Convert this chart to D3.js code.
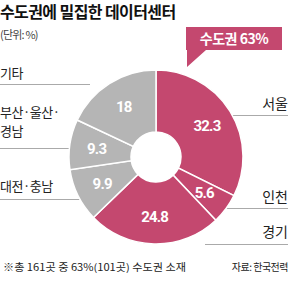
<!DOCTYPE html>
<html>
<head>
<meta charset="utf-8">
<script src="https://cdn.jsdelivr.net/npm/d3@7"></script>
<style>
  body { margin: 0; background: #fff; }
  svg { display: block; font-family: "Noto Sans CJK KR", "Noto Sans", sans-serif; }
</style>
</head>
<body>
<svg id="chart" width="300" height="289"></svg>
<script>
// regions clockwise from 12 o'clock
var regions = ["서울", "인천", "경기", "대전·충남", "부산·울산·경남", "기타"];
var shares = [32.3, 5.6, 24.8, 9.9, 9.3, 18];
var metro = [true, true, true, false, false, false];

var width = 300, height = 289;
var cx = 156, cy = 157;
var outerR = 87, innerR = 25;

var svg = d3.select("#chart");
var pink = "#c4486f", gray = "#b5b5b5";

// title
svg.append("text")
    .attr("x", 0).attr("y", 18)
    .attr("font-size", 16).attr("font-weight", "bold")
    .attr("letter-spacing", -0.6)
    .attr("fill", "#111")
    .text("수도권에 밀집한 데이터센터");

svg.append("text")
    .attr("x", 0).attr("y", 39)
    .attr("font-size", 11).attr("letter-spacing", -0.8)
    .attr("fill", "#444")
    .text("(단위: %)");

// leader lines go under the donut
var lines = [
    {x1: 0, x2: 90, y: 84},
    {x1: 0, x2: 75, y: 148},
    {x1: 0, x2: 80, y: 199},
    {x1: 225, x2: 288, y: 115},
    {x1: 225, x2: 288, y: 208},
    {x1: 205, x2: 288, y: 244}
];
svg.selectAll("line.lead")
    .data(lines)
    .enter().append("line")
    .attr("class", "lead")
    .attr("x1", d => d.x1).attr("x2", d => d.x2)
    .attr("y1", d => d.y + 0.5).attr("y2", d => d.y + 0.5)
    .attr("stroke", "#aaa").attr("stroke-width", 1);

// donut
var pie = d3.pie().sort(null).value(d => d.v);
var arc = d3.arc().innerRadius(innerR).outerRadius(outerR);
var labelArc = d3.arc().innerRadius(60).outerRadius(60);
var data = pie(regions.map((r, i) => ({name: r, v: shares[i], metro: metro[i]})));

var g = svg.append("g").attr("transform", "translate(" + cx + "," + cy + ")");
g.selectAll("path")
    .data(data)
    .enter().append("path")
    .attr("d", arc)
    .attr("fill", d => d.data.metro ? pink : gray)
    .attr("stroke", "#fff")
    .attr("stroke-width", 1.5);

// numbers inside slices
g.selectAll("text.val")
    .data(data)
    .enter().append("text")
    .attr("class", "val")
    .attr("transform", d => "translate(" + labelArc.centroid(d) + ")")
    .attr("text-anchor", "middle")
    .attr("dy", "0.36em")
    .attr("font-family", "Roboto, 'Liberation Sans', sans-serif")
    .attr("font-size", 15).attr("font-weight", "bold")
    .attr("letter-spacing", -0.8)
    .attr("fill", "#fff")
    .text(d => d3.format(".1~f")(d.data.v));

// region labels
var rightLabels = [
    {t: "서울", y: 109},
    {t: "인천", y: 202},
    {t: "경기", y: 237}
];
svg.selectAll("text.rlab")
    .data(rightLabels)
    .enter().append("text")
    .attr("class", "rlab")
    .attr("x", 288).attr("y", d => d.y)
    .attr("text-anchor", "end")
    .attr("font-size", 14).attr("fill", "#222")
    .text(d => d.t);

var leftLabels = [
    {t: "기타", y: 78},
    {t: "부산·울산·", y: 117},
    {t: "경남", y: 136},
    {t: "대전·충남", y: 191}
];
svg.selectAll("text.llab")
    .data(leftLabels)
    .enter().append("text")
    .attr("class", "llab")
    .attr("x", 0).attr("y", d => d.y)
    .attr("font-size", 13).attr("letter-spacing", -0.5).attr("fill", "#222")
    .text(d => d.t);

// callout flag
svg.append("path")
    .attr("d", "M186,27 H282 V50 H206 L187,67 V50 H186 Z")
    .attr("fill", pink);
svg.append("text")
    .attr("x", 234).attr("y", 44)
    .attr("text-anchor", "middle")
    .attr("font-size", 14).attr("font-weight", "bold")
    .attr("letter-spacing", -0.5)
    .attr("fill", "#fff")
    .text("수도권 63%");

// footnote
svg.append("text")
    .attr("x", 3).attr("y", 271)
    .attr("font-size", 10).attr("fill", "#222")
    .attr("textLength", 183).attr("lengthAdjust", "spacingAndGlyphs")
    .text("※총 161곳 중 63%(101곳) 수도권 소재");
svg.append("text")
    .attr("x", 288).attr("y", 271)
    .attr("text-anchor", "end")
    .attr("font-size", 10).attr("fill", "#222")
    .attr("letter-spacing", -0.5)
    .text("자료: 한국전력");
</script>
</body>
</html>
